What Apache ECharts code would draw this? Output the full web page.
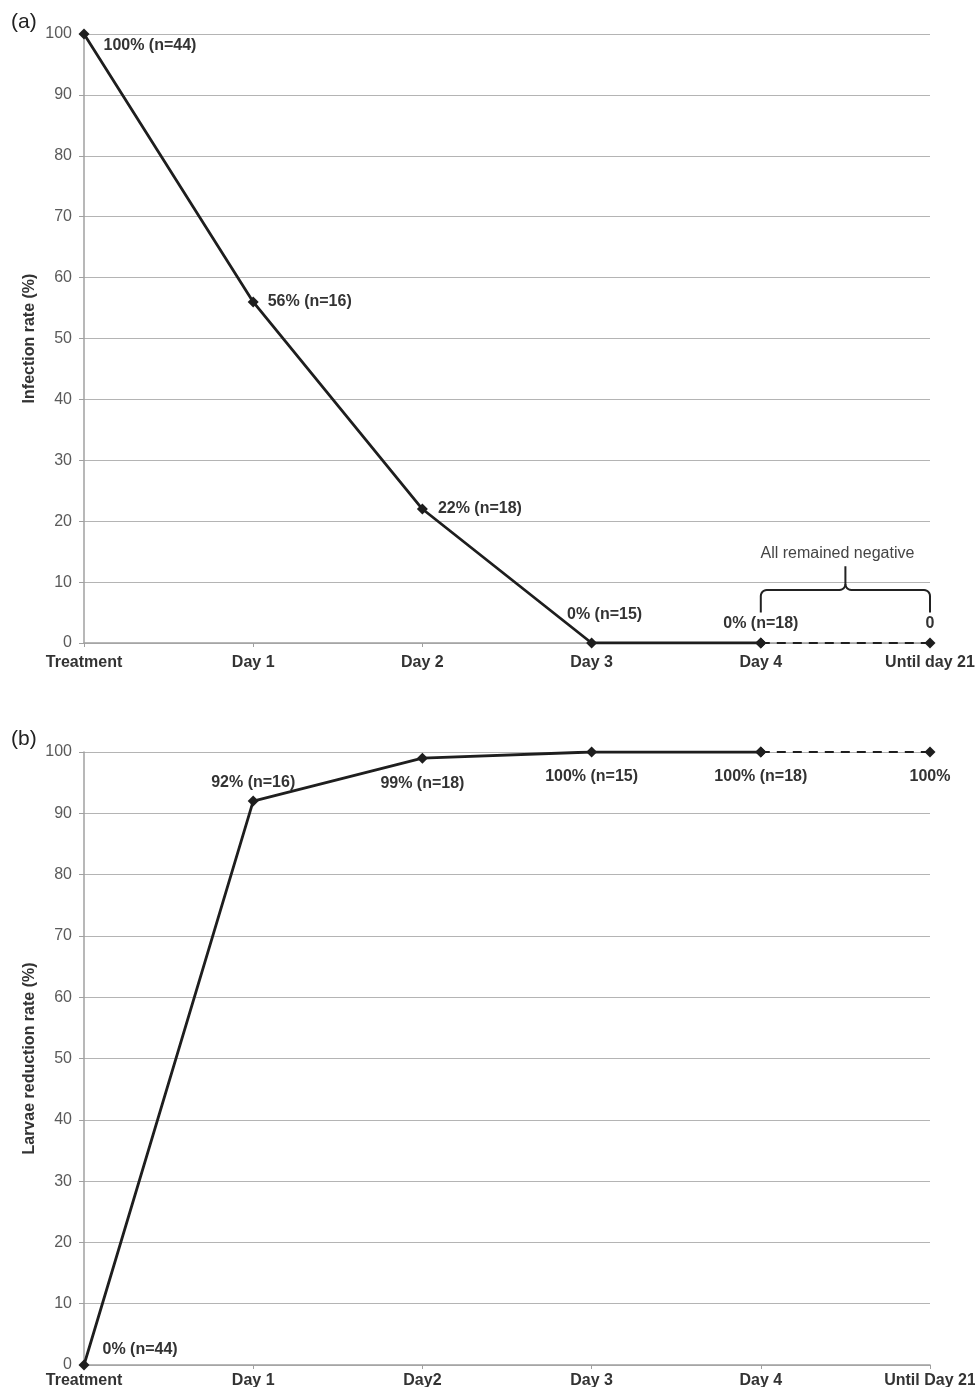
<!DOCTYPE html>
<html>
<head>
<meta charset="utf-8">
<script src="https://cdn.jsdelivr.net/npm/echarts@6/dist/echarts.min.js"></script>
<style>
html,body{margin:0;padding:0;background:#fff;}
#main{width:975px;height:1387px;}
</style>
</head>
<body>
<div id="main"></div>
<script>
// ---- data ----
const categoriesA = ['Treatment', 'Day 1', 'Day 2', 'Day 3', 'Day 4', 'Until day 21'];
const categoriesB = ['Treatment', 'Day 1', 'Day2', 'Day 3', 'Day 4', 'Until Day 21'];
const infectionRate = [100, 56, 22, 0, 0, 0];
const larvaeReduction = [0, 92, 99, 100, 100, 100];
const labelsA = ['100% (n=44)', '56% (n=16)', '22% (n=18)', '0% (n=15)', '0% (n=18)', '0'];
const labelsB = ['0% (n=44)', '92% (n=16)', '99% (n=18)', '100% (n=15)', '100% (n=18)', '100%'];
const yTicks = [0, 10, 20, 30, 40, 50, 60, 70, 80, 90, 100];
const braceText = 'All remained negative';
const solidEnd = 4; // solid line up to Day 4, dashed afterwards

// label placement styles (not data)
const labelPosA = [
  {position: 'right', distance: 14, offset: [0, 12]},
  {position: 'right', distance: 9, offset: [0, 0]},
  {position: 'right', distance: 10, offset: [0, 0]},
  {position: 'top', distance: 15, offset: [13, 0]},
  {position: 'top', distance: 6, offset: [0, 0]},
  {position: 'top', distance: 6, offset: [0, 0]}
];
const labelPosB = [
  {position: 'right', distance: 13, offset: [0, -15]},
  {position: 'top', distance: 5, offset: [0, 0]},
  {position: 'bottom', distance: 12, offset: [0, 0]},
  {position: 'bottom', distance: 11, offset: [0, 0]},
  {position: 'bottom', distance: 11, offset: [0, 0]},
  {position: 'bottom', distance: 11, offset: [0, 0]}
];

const FONT = '"Liberation Sans", Arial, sans-serif';
const lineColor = '#1e1e1e';
const labelStyle = {fontFamily: FONT, fontWeight: 'bold', fontSize: 16, color: '#333'};

function buildSeries(values, labels, pos, axisIdx) {
  const solid = values.map((v, i) => {
    if (i > solidEnd) return '-';
    return {value: v, label: Object.assign({show: true, formatter: labels[i]}, labelStyle, pos[i])};
  });
  const dashed = values.map((v, i) => {
    if (i < solidEnd) return '-';
    if (i === solidEnd) return {value: v, label: {show: false}};
    return {value: v, label: Object.assign({show: true, formatter: labels[i]}, labelStyle, pos[i])};
  });
  const common = {
    type: 'line', xAxisIndex: axisIdx, yAxisIndex: axisIdx,
    symbol: 'diamond', symbolSize: 11, z: 3,
    itemStyle: {color: lineColor},
    animation: false
  };
  return [
    Object.assign({}, common, {data: solid, lineStyle: {color: lineColor, width: 2.8}}),
    Object.assign({}, common, {data: dashed, z: 2, lineStyle: {color: lineColor, width: 2.2, type: [9, 7]}})
  ];
}

function xAxis(cats, gridIndex, margin) {
  return {
    type: 'category', gridIndex, data: cats, boundaryGap: false,
    axisLine: {lineStyle: {color: '#a0a0a0', width: 1.5}},
    axisTick: {show: true, alignWithLabel: true, length: 4, lineStyle: {color: '#a0a0a0'}},
    axisLabel: {fontFamily: FONT, fontWeight: 'bold', fontSize: 16, color: '#333', margin, interval: 0},
    splitLine: {show: false}
  };
}
function yAxis(name, gridIndex) {
  return {
    type: 'value', gridIndex, min: 0, max: 100, interval: 10,
    name, nameLocation: 'middle', nameGap: 46, nameMoveOverlap: false,
    nameTextStyle: {fontFamily: FONT, fontWeight: 'bold', fontSize: 16, color: '#333'},
    axisLine: {show: true, lineStyle: {color: '#a0a0a0', width: 1.5}},
    axisTick: {show: true, length: 5, lineStyle: {color: '#a0a0a0'}},
    axisLabel: {fontFamily: FONT, fontSize: 16, color: '#5a5a5a', margin: 12,
      formatter: v => yTicks.includes(v) ? String(v) : ''},
    splitLine: {show: true, lineStyle: {color: '#b4b4b4', width: 1.2}}
  };
}

const chart = echarts.init(document.getElementById('main'), null, {renderer: 'canvas'});
const option = {
  backgroundColor: '#fff',
  animation: false,
  title: [
    {text: '(a)', left: 6, top: 7, textStyle: {fontFamily: FONT, fontWeight: 'normal', fontSize: 21, color: '#222'}},
    {text: '(b)', left: 6, top: 724, textStyle: {fontFamily: FONT, fontWeight: 'normal', fontSize: 21, color: '#222'}}
  ],
  grid: [
    {left: 84, right: 45, top: 34, height: 609, containLabel: false, outerBoundsMode: 'none'},
    {left: 84, right: 45, top: 752, height: 613, containLabel: false, outerBoundsMode: 'none'}
  ],
  xAxis: [xAxis(categoriesA, 0, 12), xAxis(categoriesB, 1, 8)],
  yAxis: [yAxis('Infection rate (%)', 0), yAxis('Larvae reduction rate (%)', 1)],
  series: [
    ...buildSeries(infectionRate, labelsA, labelPosA, 0),
    ...buildSeries(larvaeReduction, labelsB, labelPosB, 1)
  ]
};
chart.setOption(option);

// brace annotation over Day 4 .. Until day 21 in panel (a)
const p = (x, y) => chart.convertToPixel({xAxisIndex: 0, yAxisIndex: 0}, [x, y]);
const x1 = p(solidEnd, 0)[0], x2 = p(categoriesA.length - 1, 0)[0];
const yBar = p(0, 8.7)[1], yEnd = p(0, 5.0)[1], yTip = p(0, 12.6)[1];
const xm = x1 + (x2 - x1) * 0.5;
const r = 6;
function arcPts(cx, cy, rad, a0, a1) {
  const out = [];
  for (let k = 0; k <= 6; k++) {
    const t = a0 + (a1 - a0) * k / 6;
    out.push([cx + rad * Math.cos(t), cy + rad * Math.sin(t)]);
  }
  return out;
}
const leftHalf = [[x1, yEnd]]
  .concat(arcPts(x1 + r, yBar + r, r, Math.PI, 1.5 * Math.PI))
  .concat(arcPts(xm - r, yBar - r, r, 0.5 * Math.PI, 0))
  .concat([[xm, yTip]]);
const rightHalf = arcPts(xm + r, yBar - r, r, Math.PI, 0.5 * Math.PI)
  .concat(arcPts(x2 - r, yBar + r, r, 1.5 * Math.PI, 2 * Math.PI))
  .concat([[x2, yEnd]]);
chart.setOption({
  graphic: [
    {type: 'polyline', shape: {points: leftHalf}, style: {fill: null, stroke: '#222', lineWidth: 2}, z: 10},
    {type: 'polyline', shape: {points: rightHalf}, style: {fill: null, stroke: '#222', lineWidth: 2}, z: 10},
    {type: 'text', x: xm - 8, y: yTip - 5, style: {text: braceText, font: '16px ' + FONT,
      fill: '#444', align: 'center', verticalAlign: 'bottom'}, z: 10}
  ]
});
</script>
</body>
</html>
